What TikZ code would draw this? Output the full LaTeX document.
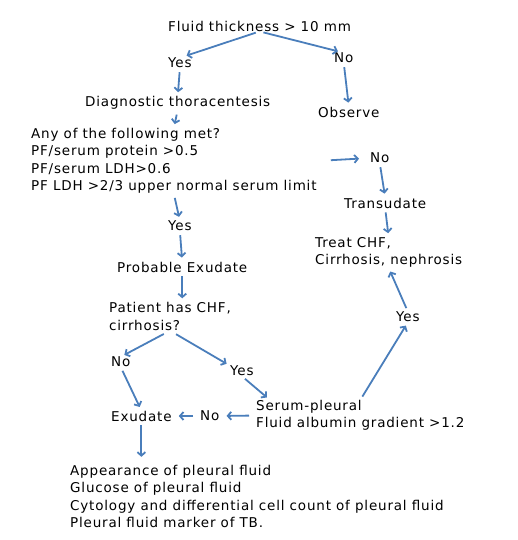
\documentclass[tikz,border=0pt]{standalone}
\usepackage{fontspec}
\setmainfont[LetterSpace=6]{DejaVu Sans}
\usepackage{tikz}
\usetikzlibrary{arrows.meta}
\definecolor{arrowblue}{HTML}{4A7EBB}

\begin{document}
\begin{tikzpicture}[x=1pt, y=-1pt, font=\fontsize{13.5}{17.5}\selectfont,
    txt/.style={inner sep=0pt, anchor=west, align=left},
    flow/.style={arrowblue, line width=1.8pt, -{Straight Barb[length=3.5pt, width=8pt]}, shorten <=4pt, shorten >=4pt}]
  \useasboundingbox (0,0) rectangle (518,540);
  % Knoten
  \node[txt] (top) at (168,26) {Fluid thickness > 10 mm};
  \node[txt] (yes1) at (168,63) {Yes};
  \node[txt] (no1) at (334,58) {No};
  \node[txt] (diag) at (85,103) {Diagnostic thoracentesis};
  \node[txt] (observe) at (318,112) {Observe};
  \node[txt] (crit) at (31,161) {Any of the following met?\\PF/serum protein >0.5\\PF/serum LDH>0.6\\PF LDH >2/3 upper normal serum limit};
  \node[txt] (no2) at (370,158) {No};
  \node[txt] (transud) at (344,203) {Transudate};
  \node[txt] (yes2) at (168,226) {Yes};
  \node[txt] (probex) at (117,267) {Probable Exudate};
  \node[txt] (treat) at (315,252.5) {Treat CHF,\\Cirrhosis, nephrosis};
  \node[txt] (patient) at (109,316.5) {Patient has CHF,\\cirrhosis?};
  \node[txt] (no3) at (111,362) {No};
  \node[txt] (yes3) at (230,371) {Yes};
  \node[txt] (yes4) at (396,317) {Yes};
  \node[txt] (serum) at (256,415.5) {Serum-pleural\\Fluid albumin gradient >1.2};
  \node[txt] (exudate) at (111,416) {Exudate};
  \node[txt] (no4) at (200,416) {No};
  \node[txt] (tests) at (70,496.5) {Appearance of pleural fluid\\Glucose of pleural fluid\\Cytology and differential cell count of pleural fluid\\Pleural fluid marker of TB.};
  % Pfeile
  \draw[flow, shorten >=7pt] (top.south) -- (yes1.north);
  \draw[flow, shorten >=6pt] (top.south) -- (no1.north);
  \draw[flow] (yes1.south) -- (diag.north);
  \draw[flow] (no1.south) -- (observe.north);
  \draw[flow, shorten <=5pt] (diag.south) -- (crit.north);
  \draw[flow, shorten <=14pt, shorten >=11pt] (crit.east) -- (no2.west);
  \draw[flow] (no2.south) -- (transud.north);
  \draw[flow] (crit.south) -- (yes2.north);
  \draw[flow] (yes2.south) -- (probex.north);
  \draw[flow] (transud.south) -- (treat.north);
  \draw[flow] (probex.south) -- (probex.south |- patient.north);
  \draw[flow, shorten <=7pt] (patient.south) -- (no3.north);
  \draw[flow, shorten <=7pt] (patient.south) -- (yes3.north west);
  \draw[flow] (no3.south) -- (exudate.north);
  \draw[flow] (yes3.south) -- ([xshift=14pt]serum.north west);
  \draw[flow] (serum.north) -- (yes4.south);
  \draw[flow] (yes4.north) -- (treat.south);
  \draw[flow, shorten <=7pt, shorten >=7pt] (serum.west) -- (no4.east);
  \draw[flow, shorten <=7pt, shorten >=7pt] (no4.west) -- (exudate.east);
  \draw[flow, shorten >=8pt] (exudate.south) -- (exudate.south |- tests.north);
\end{tikzpicture}
\end{document}
